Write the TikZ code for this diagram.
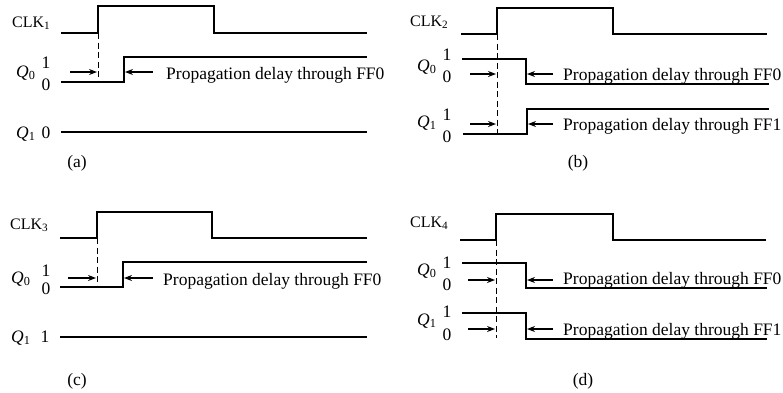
\documentclass[tikz,border=0pt]{standalone}
\usepackage{fontspec}
\setmainfont{Liberation Serif}
\usetikzlibrary{arrows.meta}

\tikzset{
  wave/.style={line width=1.9pt},
  guide/.style={line width=1pt, dash pattern=on 6pt off 3.5pt},
  delay/.style={-{Stealth[length=8pt,width=6pt]}, line width=1.1pt},
  lab/.style={inner sep=0pt, font=\fontsize{17.5}{20}\selectfont},
  clk/.style={lab, font=\fontsize{16}{18}\selectfont, anchor=base west},
}

\begin{document}
\begin{tikzpicture}[x=1pt,y=-1pt]
\useasboundingbox (0,0) rectangle (783,392);

% (a)
\node[clk] (clkA) at (12,27) {CLK\textsubscript{1}};
\draw[wave] (61,33) -- (98,33) -- (98,6) -- (214,6) -- (214,33) -- (367,33);
\node[lab,anchor=base west] (qzA) at (16,77) {\textit{Q}\textsubscript{0}};
\node[lab] (qzAhi) at (46,63) {1};
\node[lab] (qzAlo) at (46,85) {0};
\draw[wave] (61,82) -- (124,82) -- (124,57) -- (367,57);
\node[lab,anchor=base west] (qoA) at (16,138) {\textit{Q}\textsubscript{1}};
\node[lab] (qoAlo) at (46,133) {0};
\draw[wave] (61,132) -- (367,132);
\coordinate (edgeA) at (98,33);
\coordinate (footA) at (98,82);
\draw[guide] (edgeA) -- (footA);
\coordinate (inA) at (70,72);
\coordinate (atA) at (97,72);
\draw[delay] (inA) -- (atA);
\node[lab,anchor=base west] (pdA) at (166,79) {Propagation delay through FF0};
\coordinate (tailA) at (153,72);
\coordinate (riseA) at (125,72);
\draw[delay] (tailA) -- (riseA);
\node[lab] (capA) at (77,163) {(a)};

% (b)
\node[clk] (clkB) at (410,26) {CLK\textsubscript{2}};
\draw[wave] (461,34) -- (497,34) -- (497,8) -- (613,8) -- (613,34) -- (767,34);
\node[lab,anchor=base west] (qzB) at (417,71) {\textit{Q}\textsubscript{0}};
\node[lab] (qzBhi) at (447,55) {1};
\node[lab] (qzBlo) at (447,77) {0};
\draw[wave] (462,59) -- (526,59) -- (526,84) -- (769,84);
\node[lab,anchor=base west] (qoB) at (417,127) {\textit{Q}\textsubscript{1}};
\node[lab] (qoBhi) at (447,115) {1};
\node[lab] (qoBlo) at (447,137) {0};
\draw[wave] (463,134) -- (527,134) -- (527,109) -- (769,109);
\coordinate (edgeB) at (497,34);
\coordinate (footB) at (497,134);
\draw[guide] (edgeB) -- (footB);
\coordinate (inB0) at (470,74);
\coordinate (atB0) at (496,74);
\draw[delay] (inB0) -- (atB0);
\coordinate (inB1) at (470,124);
\coordinate (atB1) at (496,124);
\draw[delay] (inB1) -- (atB1);
\node[lab,anchor=base west] (pdB0) at (563,80) {Propagation delay through FF0};
\node[lab,anchor=base west] (pdB1) at (563,130) {Propagation delay through FF1};
\coordinate (tailB0) at (553,74);
\coordinate (fallB0) at (527,74);
\draw[delay] (tailB0) -- (fallB0);
\coordinate (tailB1) at (553,124);
\coordinate (riseB1) at (528,124);
\draw[delay] (tailB1) -- (riseB1);
\node[lab] (capB) at (578,163) {(b)};

% (c)
\node[clk] (clkC) at (10,229) {CLK\textsubscript{3}};
\draw[wave] (60,238) -- (97,238) -- (97,212) -- (212,212) -- (212,238) -- (367,238);
\node[lab,anchor=base west] (qzC) at (11,283) {\textit{Q}\textsubscript{0}};
\node[lab] (qzChi) at (46,271) {1};
\node[lab] (qzClo) at (46,289) {0};
\draw[wave] (60,287) -- (123,287) -- (123,262) -- (367,262);
\node[lab,anchor=base west] (qoC) at (11,342) {\textit{Q}\textsubscript{1}};
\node[lab] (qoChi) at (45,337) {1};
\draw[wave] (60,337) -- (367,337);
\coordinate (edgeC) at (97,238);
\coordinate (footC) at (97,287);
\draw[guide] (edgeC) -- (footC);
\coordinate (inC) at (68,278);
\coordinate (atC) at (96,278);
\draw[delay] (inC) -- (atC);
\node[lab,anchor=base west] (pdC) at (163,285) {Propagation delay through FF0};
\coordinate (tailC) at (153,278);
\coordinate (riseC) at (124,278);
\draw[delay] (tailC) -- (riseC);
\node[lab] (capC) at (77,381) {(c)};

% (d)
\node[clk] (clkD) at (410,227) {CLK\textsubscript{4}};
\draw[wave] (460,240) -- (496,240) -- (496,214) -- (613,214) -- (613,240) -- (766,240);
\node[lab,anchor=base west] (qzD) at (417,275) {\textit{Q}\textsubscript{0}};
\node[lab] (qzDhi) at (447,263) {1};
\node[lab] (qzDlo) at (447,285) {0};
\draw[wave] (462,263) -- (526,263) -- (526,288) -- (767,288);
\node[lab,anchor=base west] (qoD) at (417,325) {\textit{Q}\textsubscript{1}};
\node[lab] (qoDhi) at (447,312) {1};
\node[lab] (qoDlo) at (447,335) {0};
\draw[wave] (462,313) -- (526,313) -- (526,339) -- (767,339);
\coordinate (edgeD) at (496,240);
\coordinate (footD) at (496,338);
\draw[guide] (edgeD) -- (footD);
\coordinate (inD0) at (468,280);
\coordinate (atD0) at (495,280);
\draw[delay] (inD0) -- (atD0);
\coordinate (inD1) at (468,329);
\coordinate (atD1) at (495,329);
\draw[delay] (inD1) -- (atD1);
\node[lab,anchor=base west] (pdD0) at (563,284) {Propagation delay through FF0};
\node[lab,anchor=base west] (pdD1) at (563,335) {Propagation delay through FF1};
\coordinate (tailD0) at (553,280);
\coordinate (fallD0) at (527,280);
\draw[delay] (tailD0) -- (fallD0);
\coordinate (tailD1) at (553,329);
\coordinate (fallD1) at (527,329);
\draw[delay] (tailD1) -- (fallD1);
\node[lab] (capD) at (583,381) {(d)};
\end{tikzpicture}
\end{document}
